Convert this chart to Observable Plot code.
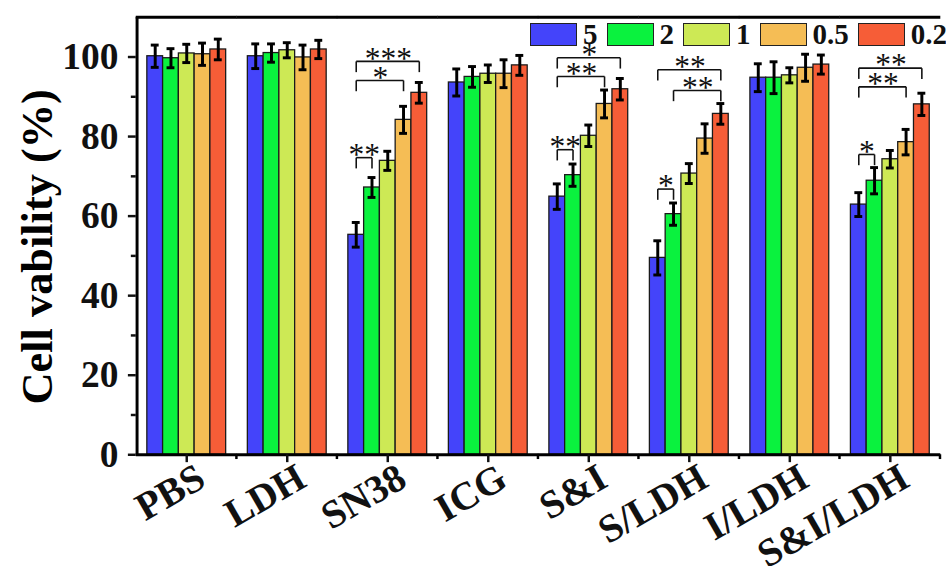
<!DOCTYPE html>
<html><head><meta charset="utf-8">
<script src="https://cdn.jsdelivr.net/npm/d3@7"></script>
<script src="https://cdn.jsdelivr.net/npm/@observablehq/plot@0.6"></script>
<style>
html,body{margin:0;padding:0;background:#fff;overflow:hidden;width:946px;height:574px}
#wrap{position:relative;width:946px;height:574px;overflow:hidden}
#wrap svg{position:absolute;left:0;top:0}
#legend{position:absolute;left:530px;top:23px;display:flex;align-items:center;font-family:"Liberation Serif","Times New Roman",serif;font-weight:bold;font-size:29px;line-height:23px;color:#111}
.sw{box-sizing:border-box;width:47px;height:23px;border:1.5px solid #222;margin-right:6px}
.lab{margin-right:9px}
</style></head><body><div id="wrap"><div id="legend"></div></div>
<script>
const groups = ["PBS","LDH","SN38","ICG","S&I","S/LDH","I/LDH","S&I/LDH"];
const series = ["5","2","1","0.5","0.2"];
const colors = ["#4444fa","#0af23e","#cde955","#f5bd55","#f65d37"];

const v5  = [100.2, 100.2, 55.3, 93.6, 64.9, 49.5, 94.8, 62.9];
const e5  = [2.8, 3.1, 3.1, 3.4, 3.2, 4.3, 3.5, 3.0];
const v2  = [99.7, 101.0, 67.2, 95.0, 70.3, 60.5, 94.8, 68.9];
const e2  = [2.4, 2.3, 2.5, 2.6, 2.8, 2.8, 4.0, 3.3];
const v1  = [100.9, 101.7, 73.9, 95.8, 80.2, 70.7, 95.4, 74.3];
const e1  = [2.3, 1.9, 2.4, 2.2, 2.7, 2.5, 1.9, 2.2];
const v05 = [100.7, 99.9, 84.2, 95.8, 88.2, 79.5, 97.3, 78.6];
const e05 = [2.8, 3.1, 3.4, 3.5, 3.5, 3.7, 3.4, 3.2];
const v02 = [101.9, 101.9, 91.0, 97.9, 91.9, 85.7, 98.1, 88.1];
const e02 = [2.6, 2.3, 2.6, 2.5, 2.7, 2.6, 2.4, 2.8];

const yTicks = [0, 20, 40, 60, 80, 100];
const yMinorTicks = [10, 30, 50, 70, 90];
const yLabel = "Cell vability (%)";

// significance brackets
const brGroup = ["SN38","SN38","SN38","S&I","S&I","S&I","S/LDH","S/LDH","S/LDH","S&I/LDH","S&I/LDH","S&I/LDH"];
const brFrom  = ["5","5","5","5","5","5","5","2","5","5","5","5"];
const brTo    = ["2","0.5","0.2","2","0.5","0.2","2","0.2","0.2","2","0.5","0.2"];
const brLevel = [74.7, 94.1, 98.9, 76.7, 95.1, 99.8, 66.8, 91.6, 96.8, 75.5, 92.5, 97.2];
const brLabel = ["**","*","***","**","**","*","*","**","**","*","**","**"];

const values = [v5, v2, v1, v05, v02];
const errors = [e5, e2, e1, e05, e02];
const data = [];
groups.forEach((g, i) => series.forEach((s, j) => data.push({group: g, series: s, value: values[j][i], err: errors[j][i]})));
const brackets = brGroup.map((g, i) => ({group: g, from: brFrom[i], to: brTo[i], level: brLevel[i], label: brLabel[i],
  span: series.indexOf(brTo[i]) - series.indexOf(brFrom[i])}));
const spans = Array.from(new Set(brackets.map(d => d.span)));

const W = 960, ML = 137, MR = 5;
const step = (W - ML - MR) / groups.length;      // facet step
const halfGap = step * 0.2 / 2;
const halfBar = step * 0.8 / series.length / 2;
const drop = 2.7;
const serif = '"Liberation Serif","Times New Roman",serif';

const chart = Plot.plot({
  width: W, height: 574,
  marginLeft: ML, marginRight: MR, marginTop: 17, marginBottom: 113,
  style: {fontFamily: serif, fontWeight: "bold", background: "transparent", color: "#111"},
  fx: {domain: groups, paddingInner: 0.2, paddingOuter: 0.1, label: null},
  x: {domain: series, padding: 0, axis: null},
  y: {domain: [0, 110], axis: null},
  color: {domain: series, range: colors},
  marks: [
    Plot.barY(data, {fx: "group", x: "series", y: "value", fill: "series", stroke: "#1a1a1a", strokeWidth: 1.3}),
    Plot.ruleX(data, {fx: "group", x: "series", y1: d => d.value - d.err, y2: d => d.value + d.err, stroke: "#000", strokeWidth: 3}),
    Plot.tickY(data, {fx: "group", x: "series", y: d => d.value - d.err, inset: 4, stroke: "#000", strokeWidth: 3}),
    Plot.tickY(data, {fx: "group", x: "series", y: d => d.value + d.err, inset: 4, stroke: "#000", strokeWidth: 3}),
    // brackets
    Plot.link(brackets, {fx: "group", x1: "from", x2: "to", y1: "level", y2: "level", stroke: "#111", strokeWidth: 1.6}),
    Plot.link(brackets, {fx: "group", x1: "from", x2: "from", y1: "level", y2: d => d.level - drop, stroke: "#111", strokeWidth: 1.6}),
    Plot.link(brackets, {fx: "group", x1: "to", x2: "to", y1: "level", y2: d => d.level - drop, stroke: "#111", strokeWidth: 1.6}),
    ...spans.map(k => Plot.text(brackets.filter(d => d.span === k), {fx: "group", x: "from", y: "level", text: "label",
      dx: k * halfBar, dy: -3, fontSize: 32, fontWeight: "normal", fill: "#111"})),
    // axis lines and frame
    Plot.ruleY([0], {insetLeft: -halfGap, insetRight: -halfGap, stroke: "#000", strokeWidth: 3}),
    Plot.ruleY([110], {insetLeft: -halfGap, insetRight: -halfGap, stroke: "#000", strokeWidth: 3}),
    Plot.ruleX([series[0]], {x: d => d, fx: () => groups[0], dx: -(halfBar + halfGap), stroke: "#000", strokeWidth: 3}),
    Plot.ruleX([series[series.length - 1]], {x: d => d, y1: 0, y2: -1.2, dx: halfBar + halfGap, stroke: "#000", strokeWidth: 2.5}),
    Plot.axisY({ticks: yTicks, tickSize: 8, tickPadding: 10, dx: -halfGap, fontSize: 38, strokeWidth: 2.5, label: null}),
    Plot.axisY({ticks: yMinorTicks, tickSize: 5, dx: -halfGap, tickFormat: () => "", strokeWidth: 2.5, label: null}),
    Plot.text([yLabel], {fx: () => groups[0], frameAnchor: "left", textAnchor: "middle", rotate: -90, dx: -110, dy: 11, fontSize: 45, fontWeight: "bold", fill: "#000"}),
    Plot.axisFx({anchor: "bottom", tickSize: 8, strokeWidth: 2.5, tickFormat: () => "", label: null}),
    Plot.axisFx({anchor: "bottom", tickSize: 0, tickRotate: -30, fontSize: 40, label: null, tickPadding: 12, dx: 15, dy: 8})
  ]
});
document.getElementById("wrap").appendChild(chart);

const legend = document.getElementById("legend");
series.forEach((s, j) => {
  const sw = document.createElement("div"); sw.className = "sw"; sw.style.background = colors[j];
  const lb = document.createElement("div"); lb.className = "lab"; lb.textContent = s;
  legend.appendChild(sw); legend.appendChild(lb);
});
</script></body></html>
